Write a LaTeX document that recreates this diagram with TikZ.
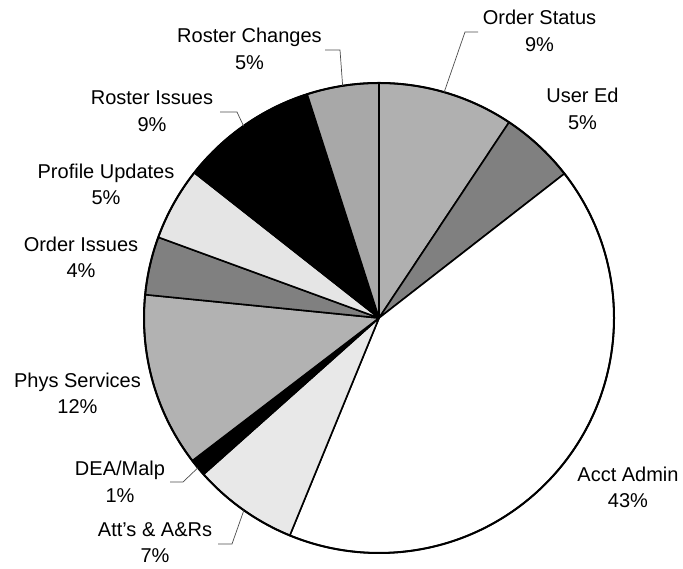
\documentclass[tikz,border=0pt]{standalone}
\usepackage{fontspec}
\setmainfont{Liberation Sans}
\begin{document}
\begin{tikzpicture}[x=1pt,y=1pt,
  slice/.style={draw=black,line width=1.6pt,line join=round},
  lbl/.style={align=center,inner sep=0pt,font=\fontsize{20}{26.5}\selectfont},
  leader/.style={draw=black!70,line width=0.7pt}]
\useasboundingbox (0,0) rectangle (683,569);
\def\R{235}
\coordinate (ctr) at (379,251);
% pie slices, clockwise from the top: start angle / end angle / fill
\foreach \a/\b/\c in {90/56.4/black!31, 56.4/37.9/black!50, 37.9/-112.3/white,
    -112.3/-138.3/black!9, -138.3/-142.6/black, -142.6/-185.7/black!30,
    -185.7/-200.1/black!50, -200.1/-218.2/black!10, -218.2/-252.2/black,
    -252.2/-270/black!34}
  \filldraw[slice,fill=\c] (ctr) -- ++(\a:\R) arc[start angle=\a,end angle=\b,radius=\R] -- cycle;
\draw[line width=2pt] (ctr) circle[radius=\R];
% labels
\node[lbl] (os) at (539.5,538) {Order Status\\9\%};
\node[lbl] (ue) at (582.5,460) {User Ed\\5\%};
\node[lbl] (aa) at (628,81.5) {Acct Admin\\43\%};
\node[lbl] (at) at (155,26.5) {Att's \& A\&Rs\\7\%};
\node[lbl] (dm) at (120,87) {DEA/Malp\\1\%};
\node[lbl] (ps) at (77.5,175.5) {Phys Services\\12\%};
\node[lbl] (oi) at (81,311.5) {Order Issues\\4\%};
\node[lbl] (pu) at (106,384.5) {Profile Updates\\5\%};
\node[lbl] (ri) at (152,458) {Roster Issues\\9\%};
\node[lbl] (rc) at (249.5,520) {Roster Changes\\5\%};
% leader lines to the rim
\path (ctr) ++(73.9:\R) coordinate (osE);
\path (ctr) ++(98.9:\R) coordinate (rcE);
\path (ctr) ++(125.2:\R) coordinate (riE);
\path (ctr) ++(-140.4:\R) coordinate (dmE);
\path (ctr) ++(-125.1:\R) coordinate (atE);
\coordinate (osA) at (478,537); \coordinate (osB) at (465,537);
\coordinate (rcA) at (325,519); \coordinate (rcB) at (340,519);
\coordinate (riA) at (220,457); \coordinate (riB) at (237,457);
\coordinate (dmA) at (170,87);  \coordinate (dmB) at (183,87);
\coordinate (atA) at (218,25);  \coordinate (atB) at (232,25);
\draw[leader] (osA) -- (osB) -- (osE);
\draw[leader] (rcA) -- (rcB) -- (rcE);
\draw[leader] (riA) -- (riB) -- (riE);
\draw[leader] (dmA) -- (dmB) -- (dmE);
\draw[leader] (atA) -- (atB) -- (atE);
\end{tikzpicture}
\end{document}
